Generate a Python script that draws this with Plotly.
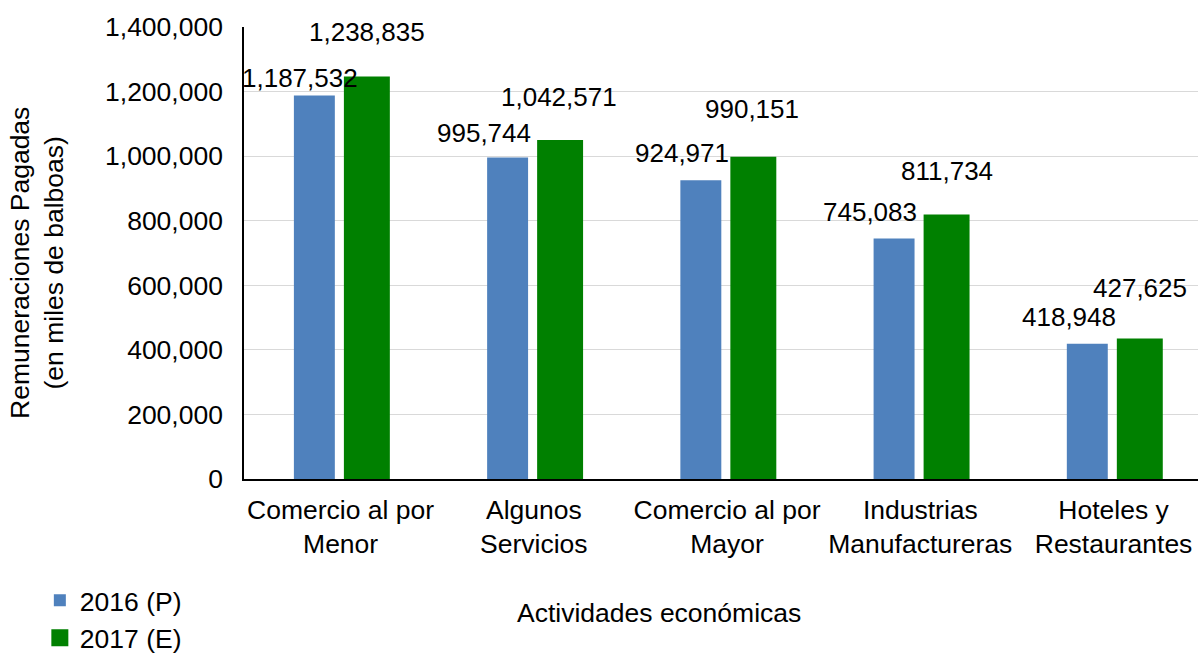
import plotly.graph_objects as go

# Data
categorias = [
    "Comercio al por<br>Menor",
    "Algunos<br>Servicios",
    "Comercio al por<br>Mayor",
    "Industrias<br>Manufactureras",
    "Hoteles y<br>Restaurantes",
]
valores_2016 = [1187532, 995744, 924971, 745083, 418948]
valores_2017 = [1238835, 1042571, 990151, 811734, 427625]
series_names = ["2016 (P)", "2017 (E)"]

# Styles
AZUL = "#4F81BD"
VERDE = "#008000"
FONT = "Liberation Sans, Arial, sans-serif"
FS = 26.5

# label nudges (px) relative to each bar top/center, as placed in the original chart
shift_2016 = [(-14, 18), (-24, 25), (-19, 27), (-24, 26), (-18, 27)]
shift_2017 = [(0, 47), (-1, 45), (-1, 50), (0, 46), (0, 53)]
BAR_OFFSET = 26.25  # px from category centre to each bar centre

fig = go.Figure()
fig.add_trace(go.Bar(
    x=categorias, y=valores_2016, name=series_names[0],
    marker=dict(color=AZUL, line=dict(width=0)),
))
fig.add_trace(go.Bar(
    x=categorias, y=valores_2017, name=series_names[1],
    marker=dict(color=VERDE, line=dict(color=VERDE, width=5)),
))

annotations = []
for vals, shifts, sign in ((valores_2016, shift_2016, -1), (valores_2017, shift_2017, 1)):
    for cat, v, (dx, dy) in zip(categorias, vals, shifts):
        annotations.append(dict(
            x=cat, y=v, xref="x", yref="y",
            text=f"{v:,}", showarrow=False,
            xshift=sign * BAR_OFFSET + dx, yshift=dy,
            xanchor="center", yanchor="middle",
            font=dict(size=26, color="#000000", family=FONT),
        ))

# axis titles as annotations (positioned like the original)
annotations.append(dict(
    text="Actividades económicas", xref="paper", yref="paper",
    x=0.4355, y=-0.297, showarrow=False, xanchor="center", yanchor="middle",
    font=dict(size=FS, color="#000000", family=FONT),
))
annotations.append(dict(
    text="Remuneraciones Pagadas<br>(en miles de balboas)", textangle=-90,
    xref="paper", yref="paper", x=-0.2165, y=0.479, showarrow=False,
    xanchor="center", yanchor="middle",
    font=dict(size=FS, color="#000000", family=FONT),
))

fig.update_layout(
    width=1198, height=654,
    margin=dict(l=244, r=0, t=27, b=175, autoexpand=False),
    paper_bgcolor="white", plot_bgcolor="white",
    font=dict(family=FONT, size=FS, color="#000000"),
    barmode="group", bargap=0.4566, bargroupgap=0.22,
    showlegend=True,
    legend=dict(
        orientation="v", x=-0.214, y=-0.216, xanchor="left", yanchor="top",
        font=dict(size=FS, color="#000000", family=FONT),
        bgcolor="rgba(0,0,0,0)", tracegroupgap=0,
    ),
    annotations=annotations,
)
fig.update_xaxes(
    range=[-0.5, 4.437], showline=True, linecolor="#000000", linewidth=1.5,
    showgrid=False, ticks="", tickfont=dict(size=FS), ticklabelstandoff=6,
    automargin=False,
)
fig.update_yaxes(
    range=[0, 1400000], dtick=200000, tickformat=",d",
    showline=True, linecolor="#000000", linewidth=1.5,
    showgrid=True, gridcolor="#D9D9D9", gridwidth=1.2,
    ticks="", tickfont=dict(size=FS), ticklabelstandoff=14,
    zeroline=False, automargin=False,
)

# drop the default page margin so the figure fills the window exactly
fig.write_html(
    "out.html",
    config={"displayModeBar": False},
    post_script="document.body.style.margin='0';document.body.style.overflow='hidden';",
)
